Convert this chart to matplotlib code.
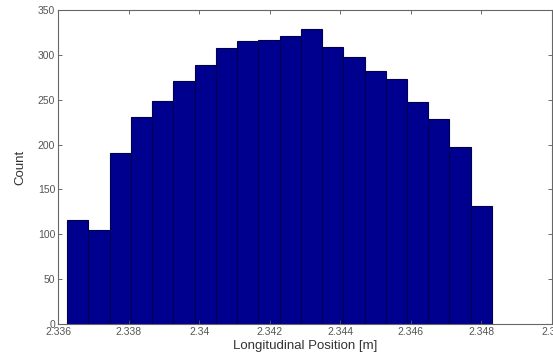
import matplotlib
matplotlib.use('Agg')
import matplotlib.pyplot as plt
import numpy as np

# bin edges of the histogram (m) and counts
bin_start = 2.33626
bin_width = 0.000602
counts = [116, 105, 191, 231, 248, 271, 289, 308, 315, 317,
          321, 329, 309, 297, 282, 273, 247, 228, 197, 131]

x_ticks = [2.336, 2.338, 2.34, 2.342, 2.344, 2.346, 2.348, 2.35]
x_tick_labels = ['2.336', '2.338', '2.34', '2.342', '2.344', '2.346', '2.348', '2.35']
y_ticks = [0, 50, 100, 150, 200, 250, 300, 350]


def main():
    plt.rcParams['font.family'] = ['Liberation Sans', 'DejaVu Sans']

    fig = plt.figure(figsize=(5.53, 3.61), dpi=100)
    ax = fig.add_axes([0.105, 0.1025, 0.893, 0.87])

    # bars
    n = len(counts)
    lefts = bin_start + bin_width * np.arange(n)
    ax.bar(lefts, counts, width=bin_width, align='edge',
           facecolor='#00008f', edgecolor='#000050', linewidth=0.8)

    # axes
    ax.set_xlim(2.336, 2.350)
    ax.set_ylim(0, 350)
    ax.set_xticks(x_ticks)
    ax.set_xticklabels(x_tick_labels)
    ax.set_yticks(y_ticks)
    ax.tick_params(direction='in', top=True, right=True, length=3,
                   width=0.6, labelsize=7.5, labelcolor='#555555',
                   color='#555555', pad=2)
    for s in ax.spines.values():
        s.set_color('#666666')
        s.set_linewidth(0.8)

    # labels
    ax.set_xlabel('Longitudinal Position [m]', fontsize=9.5, color='#333333', labelpad=2)
    ax.set_ylabel('Count', fontsize=9.5, color='#333333', labelpad=8)

    fig.savefig('out.png', dpi=100)


if __name__ == '__main__':
    main()
